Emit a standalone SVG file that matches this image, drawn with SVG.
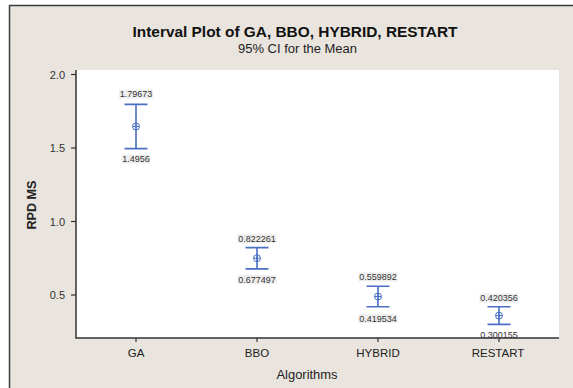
<svg xmlns="http://www.w3.org/2000/svg" width="573" height="388" viewBox="0 0 573 388">
<style>
.bg{fill:#e9e4de}
.frame{stroke:#3c3c3c;stroke-width:1.5;fill:none}
.axis{stroke:#333;stroke-width:1.5;fill:none}
.tick{stroke:#333;stroke-width:1.2}
.ci{stroke:#4a6fc4;stroke-width:1.6;fill:none}
.mean{stroke:#4a6fc4;stroke-width:1;fill:none}
.lbl{font-family:"Liberation Sans",Arial,sans-serif;font-size:9px;fill:#333;text-anchor:middle}
.lblbg{fill:#eeeeee}
.tk{font-family:"Liberation Sans",Arial,sans-serif;font-size:11px;fill:#333;text-anchor:end}
.xt{font-family:"Liberation Sans",Arial,sans-serif;font-size:11.5px;fill:#222;text-anchor:middle}
.title{font-family:"Liberation Sans",Arial,sans-serif;font-size:14px;font-weight:bold;fill:#111;text-anchor:middle}
.sub{font-family:"Liberation Sans",Arial,sans-serif;font-size:12px;fill:#222;text-anchor:middle}
.ax{font-family:"Liberation Sans",Arial,sans-serif;font-size:12.5px;fill:#222;text-anchor:middle}
</style>
<rect width="573" height="388" fill="#ffffff"/>
<rect x="9.5" y="5.5" width="564" height="383" class="bg"/>
<path d="M9.5,388 V5.5 H573" class="frame"/>
<rect x="76" y="70" width="483" height="268" fill="#ffffff"/>

<text class="title" x="295" y="37" textLength="325" lengthAdjust="spacingAndGlyphs">Interval Plot of GA, BBO, HYBRID, RESTART</text>
<text class="sub" x="297.5" y="53" textLength="119" lengthAdjust="spacingAndGlyphs">95% CI for the Mean</text>

<g id="axes">
<path d="M76,70 V338 H559" class="axis"/>
<g class="tick">
<line x1="71" y1="74.5" x2="76" y2="74.5"/>
<line x1="71" y1="148" x2="76" y2="148"/>
<line x1="71" y1="221.5" x2="76" y2="221.5"/>
<line x1="71" y1="295" x2="76" y2="295"/>
<line x1="136" y1="338" x2="136" y2="342"/>
<line x1="257" y1="338" x2="257" y2="342"/>
<line x1="378" y1="338" x2="378" y2="342"/>
<line x1="499" y1="338" x2="499" y2="342"/>
</g>
<text class="tk" x="65" y="78.5">2.0</text>
<text class="tk" x="65" y="152">1.5</text>
<text class="tk" x="65" y="225.5">1.0</text>
<text class="tk" x="65" y="299">0.5</text>
<text class="xt" x="136" y="357">GA</text>
<text class="xt" x="257" y="357">BBO</text>
<text class="xt" x="378" y="357">HYBRID</text>
<text class="xt" x="498" y="357">RESTART</text>
<text class="ax" x="307" y="379" textLength="61" lengthAdjust="spacingAndGlyphs">Algorithms</text>
<text class="ax" font-weight="bold" transform="translate(36,205) rotate(-90)" textLength="49" lengthAdjust="spacingAndGlyphs">RPD MS</text>
</g>

<g id="GA">
<path class="ci" d="M124.5,104.4 H147.5 M136,104.4 V148.6 M124.5,148.6 H147.5"/>
<circle class="mean" cx="136" cy="126.5" r="3.5" fill="#fff"/>
<path class="mean" d="M132.5,126.5 H139.5 M136,123 V130"/>
<rect class="lblbg" x="119" y="89.5" width="34" height="9"/>
<text class="lbl" x="136" y="97">1.79673</text>
<rect class="lblbg" x="121.5" y="154.5" width="29" height="9"/>
<text class="lbl" x="136" y="162">1.4956</text>
</g>

<g id="BBO">
<path class="ci" d="M245.5,247.6 H268.5 M257,247.6 V268.9 M245.5,268.9 H268.5"/>
<circle class="mean" cx="257" cy="258.2" r="3.5" fill="#fff"/>
<path class="mean" d="M253.5,258.2 H260.5 M257,254.7 V261.7"/>
<rect class="lblbg" x="237.5" y="234" width="39" height="9"/>
<text class="lbl" x="257" y="241.5">0.822261</text>
<rect class="lblbg" x="237.5" y="275" width="39" height="9"/>
<text class="lbl" x="257" y="282.5">0.677497</text>
</g>

<g id="HYBRID">
<path class="ci" d="M366.5,286.2 H389.5 M378,286.2 V306.8 M366.5,306.8 H389.5"/>
<circle class="mean" cx="378" cy="296.5" r="3.5" fill="#fff"/>
<path class="mean" d="M374.5,296.5 H381.5 M378,293 V300"/>
<rect class="lblbg" x="358.5" y="272.5" width="39" height="9"/>
<text class="lbl" x="378" y="280">0.559892</text>
<rect class="lblbg" x="358.5" y="314" width="39" height="9"/>
<text class="lbl" x="378" y="321.5">0.419534</text>
</g>

<g id="RESTART">
<path class="ci" d="M487.5,306.7 H510.5 M499,306.7 V324.4 M487.5,324.4 H510.5"/>
<circle class="mean" cx="499" cy="315.6" r="3.5" fill="#fff"/>
<path class="mean" d="M495.5,315.6 H502.5 M499,312.1 V319.1"/>
<rect class="lblbg" x="479.5" y="293.5" width="39" height="9"/>
<text class="lbl" x="499" y="301">0.420356</text>
<text class="lbl" x="499" y="338">0.300155</text>
</g>
</svg>
